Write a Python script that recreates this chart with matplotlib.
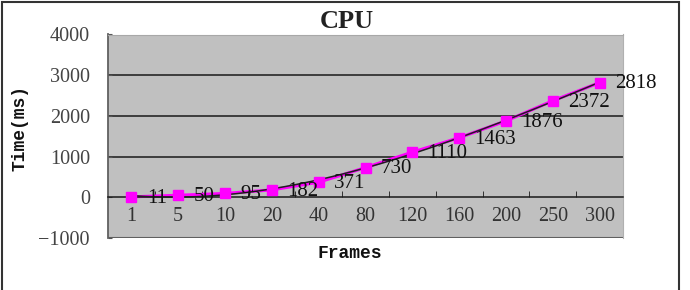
import numpy as np
import matplotlib.pyplot as plt
from matplotlib.patches import Rectangle
from matplotlib.ticker import FixedLocator

frames = ['1', '5', '10', '20', '40', '80', '120', '160', '200', '250', '300']
times = [11, 50, 95, 182, 371, 730, 1110, 1463, 1876, 2372, 2818]
yticks = [-1000, 0, 1000, 2000, 3000, 4000]

serif = 'Liberation Serif'
mono = 'Liberation Mono'

fig = plt.figure(figsize=(6.9, 2.9), dpi=100)
ax = fig.add_axes([108/690, 1-238/290, 515/690, (238-34.5)/290])
ax.set_facecolor('#c0c0c0')

x = np.arange(len(frames))
ax.set_xlim(-0.5, len(frames)-0.5)
ax.set_ylim(-1000, 4000)

# grid lines
for v in yticks[2:-1]:
    ax.axhline(v, color='#1a1a1a', lw=1.1, zorder=1)

# series + trendline
ax.plot(x, times, color='#ff00ff', lw=2.2, zorder=2)
coef = np.polyfit(x, times, 3)
xs = np.linspace(0, len(frames)-1, 200)
ax.plot(xs, np.polyval(coef, xs), color='#202020', lw=1.1, zorder=3)
ax.plot(x, times, ls='none', marker='s', ms=6.5, color='#ff00ff', zorder=4)

for xi, t in zip(x, times):
    ax.annotate(str(t), (xi, t), xytext=(11, -1), textcoords='offset points',
                ha='left', va='center', fontsize=15, family=serif,
                color='#111111', zorder=5)

# category axis sits on y=0
ax.spines['bottom'].set_position(('data', 0))
ax.spines['bottom'].set_color('#1a1a1a')
ax.spines['bottom'].set_linewidth(1.1)
ax.set_xticks(x)
ax.set_xticklabels(frames, family=serif, fontsize=14.5, color='#333333')
ax.tick_params(axis='x', which='major', length=0, pad=7)
ax.xaxis.set_minor_locator(FixedLocator(x[:-1] + 0.5))
ax.tick_params(axis='x', which='minor', direction='in', length=4, color='#1a1a1a')
ax.axhline(-1000, color='#606060', lw=1.5, zorder=1)

ax.set_yticks(yticks)
ax.set_yticklabels([str(v).replace('-', '\u2212') for v in yticks],
                   family=serif, fontsize=14.5, color='#444444')
ax.tick_params(axis='y', direction='in', length=3, pad=13, color='#555555')

ax.spines['left'].set_color('#606060')
ax.spines['left'].set_linewidth(1.3)
ax.spines['top'].set_color('#a8a8a8')
ax.spines['right'].set_color('#b0b0b0')

fig.text(347/690, 1-22/290, 'CPU', ha='center', va='center', family=serif,
         fontweight='bold', fontsize=19, color='#222222')
fig.text(20/690, 1-128/290, 'Time(ms)', ha='center', va='center', rotation=90,
         family=mono, fontweight='bold', fontsize=13, color='#111111')
fig.text(350/690, 1-254/290, 'Frames', ha='center', va='center',
         family=mono, fontweight='bold', fontsize=13, color='#111111')

fig.patches.append(Rectangle((2/690, -0.1), 677/690, 1.1 - 1.5/290,
                             transform=fig.transFigure, fill=False,
                             edgecolor='#333333', lw=1.5))

fig.savefig('out.png', dpi=100)
